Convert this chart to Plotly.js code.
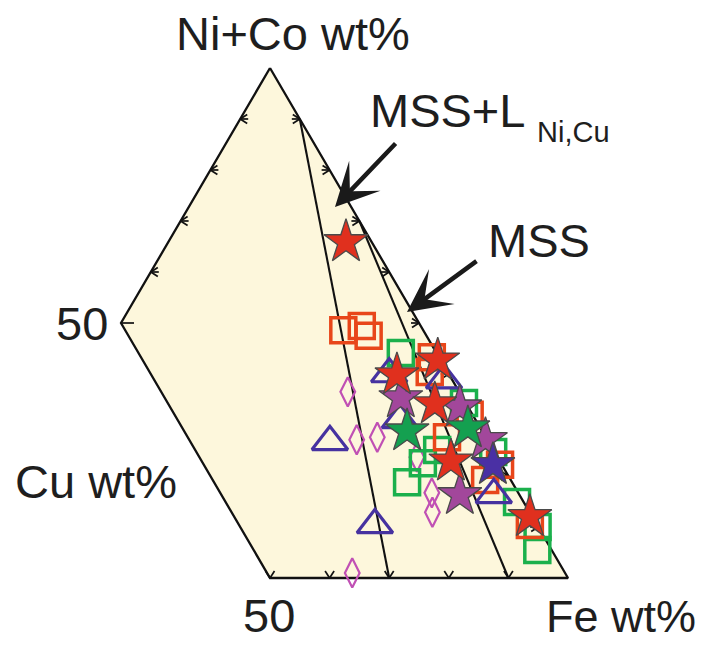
<!DOCTYPE html>
<html><head><meta charset="utf-8">
<script src="https://cdn.plot.ly/plotly-3.0.1.min.js"></script>
<style>html,body{margin:0;padding:0;background:#fff}#chart{width:708px;height:646px}</style>
</head><body><div id="chart"></div>
<script>
// ---- Data: compositions (Ni+Co wt%, Cu wt%; Fe = 100 - NiCo - Cu) ----
const redStarNiCo = [65.9, 42.7, 39.8, 34.1, 22.9, 12.0];
const redStarCu   = [4.3, 0.5, 8.8, 5.3, 8.2, 0.4];

const purpleStarNiCo = [35.3, 33.5, 27.1, 16.3];
const purpleStarCu   = [10.4, 1.4, 0.3, 10.0];

const greenStarNiCo = [28.8, 29.4];
const greenStarCu   = [12.6, 2.1];

const blueStarNiCo = [22.2];
const blueStarCu   = [1.5];

const redSquareNiCo = [48.6, 49.4, 47.5, 43.3, 40.4, 32.0, 27.6, 22.2, 19.2, 10.4];
const redSquareCu   = [13.4, 9.9, 9.7, 1.2, 3.0, 0.5, 6.5, 0.3, 4.3, 1.2];

const greenSquareNiCo = [44.1, 34.3, 25.1, 22.5, 18.8, 24.7, 14.9, 10.0, 5.5];
const greenSquareCu   = [6.0, 0.3, 9.4, 13.1, 17.6, 0.2, 1.1, 0.1, 2.4];

const blueTriNiCo = [40.0, 38.8, 26.7, 10.4, 31.0, 16.3];
const blueTriCu   = [10.0, 1.4, 26.6, 27.2, 12.7, 4.3];

const pinkDiaNiCo = [36.5, 27.1, 27.6, 1.0, 23.7, 16.7, 12.9];
const pinkDiaCu   = [18.7, 21.9, 18.2, 35.7, 13.5, 14.5, 16.3];

// field outline (Cu <= 50 part of the Cu–Fe–(Ni+Co) triangle)
const kiteNiCo = [100, 50, 0, 0, 100];
const kiteCu   = [0, 50, 50, 0, 0];

// phase boundaries
const mssLNiCo = [90, 0];
const mssLCu   = [0, 30];
const mssNiCo  = [70, 0];
const mssCu    = [0, 10];

// tick values (wt%)
const leftTicks   = [60, 70, 80, 90];
const rightTicks  = [10, 20, 30, 40, 50, 60, 70, 80, 90];
const bottomTicks = [10, 20, 30, 40, 50];

// ---- projection of a composition onto the plane ----
function px(n, cu) { return 100 - cu - n / 2; }
function py(n) { return n; }
function proj(nArr, cuArr) {
  return { x: nArr.map((n, i) => px(n, cuArr[i])), y: nArr.map(n => py(n)) };
}

const XR = [4.698, 123.49], YR = [-13.33, 113.33];
const W = 708, H = 646;
const ux = (XR[1] - XR[0]) / W;
const uy = (YR[1] - YR[0]) / H;

const tx = [], ty = [];
function seg(x0, y0, x1, y1) { tx.push(x0, x1, null); ty.push(y0, y1, null); }
const armA = 7, armS = 4.5, bar = 8;
leftTicks.forEach(n => {
  const x = px(n, 100 - n), y = py(n);
  seg(x, y, x + bar * ux, y);
  seg(x, y, x + armA * ux, y + armS * uy);
  seg(x, y, x + armA * ux, y - armS * uy);
});
{
  const x = px(50, 50), y = py(50);
  seg(x, y, x + 13 * ux, y);
}
rightTicks.forEach(n => {
  const x = px(n, 0), y = py(n);
  seg(x, y, x - bar * ux, y);
  seg(x, y, x - armA * ux, y + armS * uy);
  seg(x, y, x - armA * ux, y - armS * uy);
});
bottomTicks.forEach(c => {
  const x = px(0, c), y = py(0);
  seg(x, y, x - armS * ux, y + armA * uy);
  seg(x, y, x + armS * ux, y + armA * uy);
});

const kite = proj(kiteNiCo, kiteCu);
const l1 = proj(mssLNiCo, mssLCu);
const l2 = proj(mssNiCo, mssCu);

function mk(nArr, cuArr, symbol, size, color, lineColor, lw) {
  const p = proj(nArr, cuArr);
  return { type: 'scatter', mode: 'markers', x: p.x, y: p.y, hoverinfo: 'skip', cliponaxis: false,
    marker: { symbol: symbol, size: size, color: color, line: { color: lineColor, width: lw } } };
}

const traces = [
  { type: 'scatter', mode: 'lines', x: kite.x, y: kite.y, fill: 'toself', fillcolor: '#fdf7dc',
    line: { color: '#111111', width: 2.3 }, hoverinfo: 'skip' },
  { type: 'scatter', mode: 'lines', x: l1.x, y: l1.y, line: { color: '#111111', width: 2.1 }, hoverinfo: 'skip' },
  { type: 'scatter', mode: 'lines', x: l2.x, y: l2.y, line: { color: '#111111', width: 2.1 }, hoverinfo: 'skip' },
  { type: 'scatter', mode: 'lines', x: tx, y: ty, line: { color: '#111111', width: 1.7 }, hoverinfo: 'skip' },
  mk(pinkDiaNiCo, pinkDiaCu, 'diamond-tall-open', 21, '#c050b4', '#c050b4', 2.2),
  mk(greenSquareNiCo, greenSquareCu, 'square-open', 25, '#1bb04c', '#1bb04c', 3.5),
  mk(redSquareNiCo, redSquareCu, 'square-open', 25, '#e8461a', '#e8461a', 3.5),
  mk(blueTriNiCo, blueTriCu, 'triangle-up-open', 31, '#4632a0', '#4632a0', 3.2),
  mk(purpleStarNiCo, purpleStarCu, 'star', 33, '#a2479b', '#4a4a4a', 1.3),
  mk(redStarNiCo, redStarCu, 'star', 33, '#e0301e', '#4a4a4a', 1.3),
  mk(greenStarNiCo, greenStarCu, 'star', 33, '#14a050', '#4a4a4a', 1.3),
  mk(blueStarNiCo, blueStarCu, 'star', 33, '#4a30a4', '#4a4a4a', 1.3)
];

const FONT = 'Liberation Sans, Arial, Helvetica, sans-serif';
const TC = '#1e1e1e';
function P(xp, yp) { return { x: xp / W, y: 1 - yp / H }; }
function label(text, xp, yp, xanchor, size) {
  const p = P(xp, yp);
  return { xref: 'paper', yref: 'paper', x: p.x, y: p.y, xanchor: xanchor, yanchor: 'middle',
    text: text, showarrow: false, font: { family: FONT, size: size, color: TC } };
}
function arrow(hx, hy, tx_, ty_) {
  const p = P(hx, hy);
  return { xref: 'paper', yref: 'paper', x: p.x, y: p.y, ax: tx_ - hx, ay: ty_ - hy,
    text: '', showarrow: true, arrowhead: 3, arrowsize: 1.6, arrowwidth: 4.5,
    arrowcolor: '#1a1a1a', standoff: 0, startstandoff: 0 };
}

const annotations = [
  label('Ni+Co wt%', 293, 33, 'center', 47),
  label('MSS+L', 368, 111, 'left', 47),
  label('Ni,Cu', 535, 132, 'left', 29),
  label('MSS', 486, 241, 'left', 47),
  label('50', 110, 323, 'right', 47),
  label('Cu wt%', 13, 482, 'left', 47),
  label('50', 241, 615, 'left', 47),
  label('Fe wt%', 698, 616, 'right', 45),
  arrow(335, 207, 397, 142),
  arrow(407, 312, 478, 260)
];

const layout = {
  width: W, height: H, margin: { l: 0, r: 0, t: 0, b: 0 },
  paper_bgcolor: '#ffffff', plot_bgcolor: '#ffffff', showlegend: false,
  xaxis: { range: XR, visible: false, fixedrange: true },
  yaxis: { range: YR, visible: false, fixedrange: true },
  annotations: annotations
};

Plotly.newPlot('chart', traces, layout, { staticPlot: true, displayModeBar: false });
</script>
</body></html>
